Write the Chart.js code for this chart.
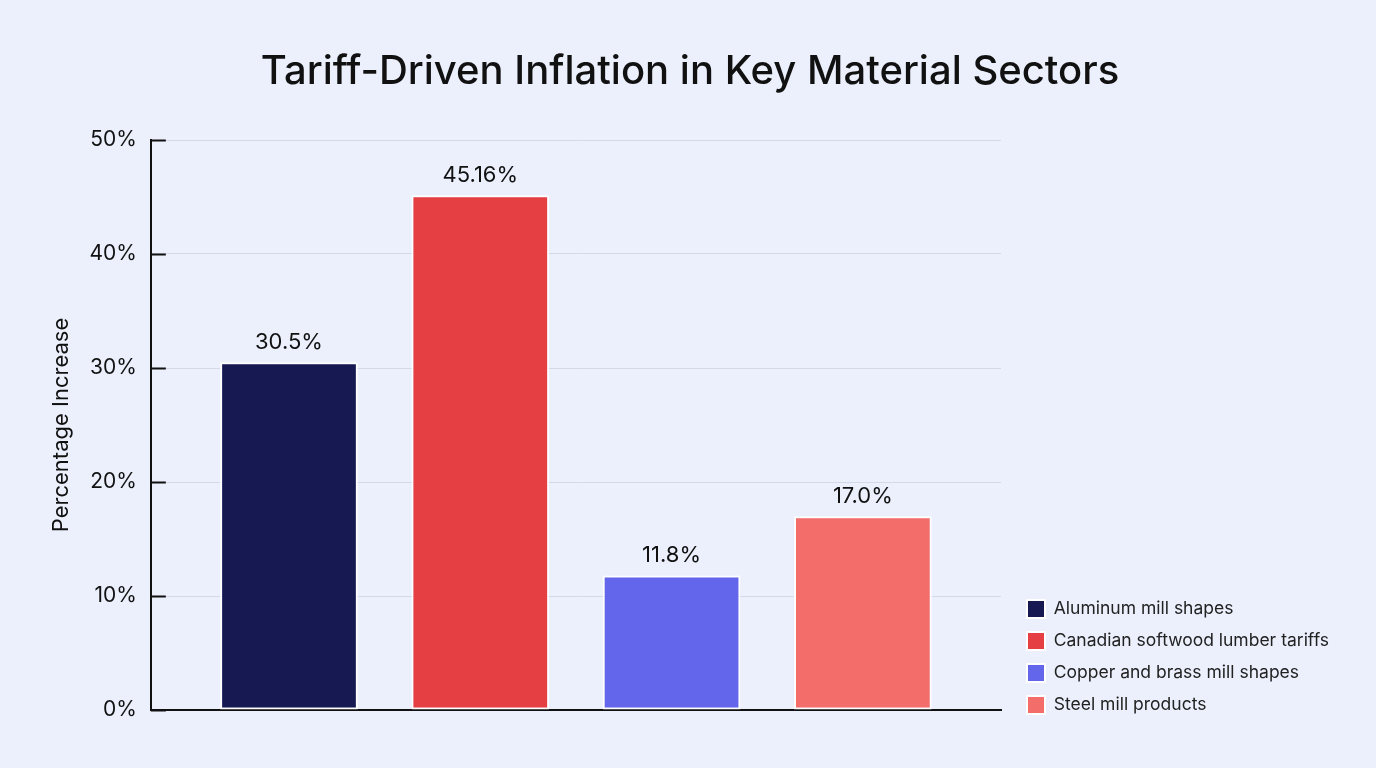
<!DOCTYPE html>
<html>
<head>
<meta charset="utf-8">
<script src="https://cdn.jsdelivr.net/npm/chart.js@4.4.1/dist/chart.umd.min.js"></script>
<style>
  html, body { margin: 0; padding: 0; background: #ebf0fc; }
  #wrap { width: 1376px; height: 768px; }
</style>
</head>
<body>
<div id="wrap"><canvas id="grafico"></canvas></div>
<script>
const sectores = ['Aluminum mill shapes', 'Canadian softwood lumber tariffs', 'Copper and brass mill shapes', 'Steel mill products'];
const valores = [30.5, 45.16, 11.8, 17.0];
const etiquetas = ['30.5%', '45.16%', '11.8%', '17.0%'];
const colores = ['#171a52', '#e63f43', '#6366eb', '#f36d6b'];
const ticksY = [0, 10, 20, 30, 40, 50];

// etiquetas encima de cada barra
const etiquetasBarras = {
    id: 'etiquetasBarras',
    afterDatasetsDraw(chart) {
        const ctx = chart.ctx;
        ctx.save();
        ctx.font = '22px Inter';
        ctx.fillStyle = '#111';
        ctx.textAlign = 'center';
        ctx.textBaseline = 'bottom';
        chart.data.datasets.forEach((ds, i) => {
            const bar = chart.getDatasetMeta(i).data[0];
            ctx.fillText(etiquetas[i], bar.x, bar.y - 9);
        });
        ctx.restore();
    }
};

// marcas cortas del eje Y hacia dentro
const marcasY = {
    id: 'marcasY',
    beforeDatasetsDraw(chart) {
        const y = chart.scales.y;
        const ctx = chart.ctx;
        ctx.save();
        ctx.strokeStyle = '#111';
        ctx.lineWidth = 2;
        y.ticks.forEach((t, i) => {
            const py = Math.round(y.getPixelForTick(i)) + 0.5;
            ctx.beginPath();
            ctx.moveTo(y.right, py);
            ctx.lineTo(y.right + 15, py);
            ctx.stroke();
        });
        ctx.restore();
    }
};

const $ctx = document.getElementById('grafico');

new Chart($ctx, {
    type: 'bar',
    data: {
        labels: [''],
        datasets: sectores.map((s, i) => ({
            label: s,
            data: [valores[i]],
            backgroundColor: colores[i],
            borderColor: '#ffffff',
            borderWidth: 2,
            borderSkipped: false,
            barPercentage: 0.72,
            categoryPercentage: 0.9
        }))
    },
    options: {
        responsive: true,
        maintainAspectRatio: false,
        animation: false,
        layout: { padding: { left: 44, right: 40, top: 48, bottom: 40 } },
        plugins: {
            title: {
                display: true,
                text: 'Tariff-Driven Inflation in Key Material Sectors',
                color: '#111',
                font: { family: 'Inter', size: 40, weight: '500' },
                padding: { top: 0, bottom: 44 }
            },
            legend: {
                position: 'right',
                align: 'end',
                labels: {
                    color: '#222',
                    font: { family: 'Inter', size: 17.5 },
                    boxWidth: 18,
                    boxHeight: 18,
                    padding: 14,
                    useBorderRadius: false
                }
            },
            tooltip: { enabled: false }
        },
        scales: {
            x: {
                grid: { display: false, drawTicks: false },
                border: { display: true, color: '#111', width: 2 },
                ticks: { display: false },
                afterFit: (axis) => { axis.height = 18; }
            },
            y: {
                min: 0,
                max: 50,
                afterBuildTicks: (axis) => { axis.ticks = ticksY.map(v => ({ value: v })); },
                grid: { color: '#d3d9e6', lineWidth: 1, drawTicks: false },
                border: { display: true, color: '#111', width: 2 },
                ticks: {
                    padding: 14,
                    color: '#111',
                    font: { family: 'Inter', size: 21 },
                    callback: (v) => v + '%'
                },
                title: {
                    display: true,
                    text: 'Percentage Increase',
                    color: '#111',
                    font: { family: 'Inter', size: 22 },
                    padding: { bottom: 1 }
                }
            },
            // hueco entre el grafico y la leyenda
            margenDer: {
                display: false,
                position: 'right',
                afterFit: (axis) => { axis.width = 12; }
            }
        }
    },
    plugins: [etiquetasBarras, marcasY]
});
</script>
</body>
</html>
